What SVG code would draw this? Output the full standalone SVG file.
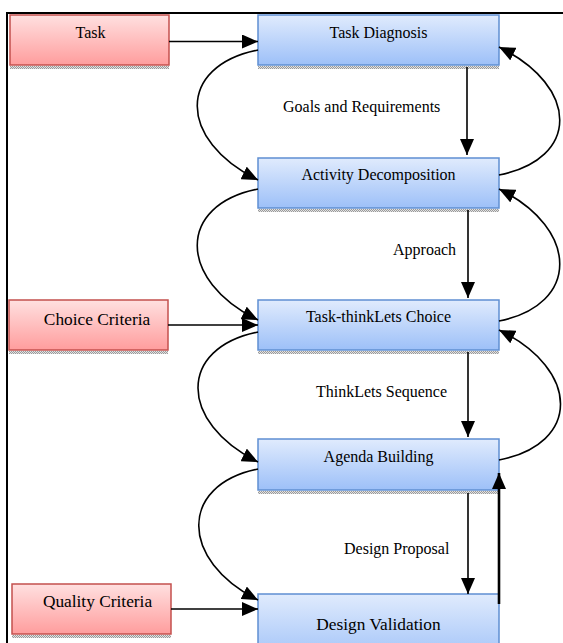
<svg xmlns="http://www.w3.org/2000/svg" width="563" height="643" viewBox="0 0 563 643">
<defs>
<linearGradient id="gBlue" x1="0" y1="0" x2="0" y2="1">
<stop offset="0" stop-color="#e0ebfd"/>
<stop offset="1" stop-color="#9dc0f8"/>
</linearGradient>
<linearGradient id="gRed" x1="0" y1="0" x2="0" y2="1">
<stop offset="0" stop-color="#ffe0e0"/>
<stop offset="1" stop-color="#ff9d9d"/>
</linearGradient>
<pattern id="hatch" width="2" height="2" patternUnits="userSpaceOnUse">
<rect width="2" height="2" fill="#e2e2e2"/>
<rect width="1" height="1" fill="#9a9a9a"/>
<rect x="1" y="1" width="1" height="1" fill="#9a9a9a"/>
</pattern>
<marker id="ah" markerUnits="userSpaceOnUse" markerWidth="16" markerHeight="14" refX="16" refY="7" orient="auto">
<path d="M0,0 L16,7 L0,14 z" fill="#000"/>
</marker>
</defs>
<style>
.blue{fill:url(#gBlue);stroke:#5f8fd2;stroke-width:1.5}
.red{fill:url(#gRed);stroke:#c4504e;stroke-width:1.5}
.sh{fill:url(#hatch)}
.t{font-family:"Liberation Serif","Times New Roman",serif;font-size:16px;fill:#000}
.tb{font-family:"Liberation Serif","Times New Roman",serif;font-size:17.33px;fill:#000}
.c{text-anchor:middle}
.con path{fill:none;stroke:#000;stroke-width:1.6;marker-end:url(#ah)}
</style>
<path d="M7,643 V13 H563" fill="none" stroke="#000" stroke-width="2"/>

<g id="task">
<rect class="sh" x="10" y="66" width="159" height="3"/>
<rect class="red" x="10" y="15" width="159" height="50"/>
<text class="t c" x="90.5" y="38">Task</text>
</g>
<g id="choice-criteria">
<rect class="sh" x="9" y="351" width="159" height="3"/>
<rect class="red" x="9" y="300" width="159" height="50"/>
<text class="tb c" x="97" y="325">Choice Criteria</text>
</g>
<g id="quality-criteria">
<rect class="sh" x="12" y="635" width="159" height="3"/>
<rect class="red" x="12" y="584" width="159" height="50"/>
<text class="tb c" x="97.5" y="607">Quality Criteria</text>
</g>

<g id="task-diagnosis">
<rect class="sh" x="258" y="66" width="241" height="3"/>
<rect class="blue" x="258" y="15" width="241" height="50"/>
<text class="t c" x="378.5" y="37.5">Task Diagnosis</text>
</g>
<g id="activity-decomposition">
<rect class="sh" x="258" y="209" width="241" height="3"/>
<rect class="blue" x="258" y="158" width="241" height="50"/>
<text class="t c" x="378.5" y="180">Activity Decomposition</text>
</g>
<g id="task-thinklets-choice">
<rect class="sh" x="258" y="351" width="241" height="3"/>
<rect class="blue" x="258" y="300" width="241" height="50"/>
<text class="t c" x="378.5" y="322">Task-thinkLets Choice</text>
</g>
<g id="agenda-building">
<rect class="sh" x="258" y="491" width="241" height="3"/>
<rect class="blue" x="258" y="439" width="241" height="51"/>
<text class="t c" x="378.5" y="462">Agenda Building</text>
</g>
<g id="design-validation">
<rect class="blue" x="258" y="594" width="241" height="70"/>
<text class="tb c" x="378.5" y="630">Design Validation</text>
</g>

<g id="connectors" class="con">
<path d="M169,41.5 H258"/>
<path d="M168,325 H258"/>
<path d="M171,609 H258"/>
<path d="M467,67 V155"/>
<path d="M468,210 V298"/>
<path d="M468,352 V437"/>
<path d="M468,493 V594"/>
<path d="M499,604 V473" style="stroke-width:2.6"/>
<path d="M258,50 C177,66 177,140 258,180"/>
<path d="M258,189 C177,205 177,280 258,320"/>
<path d="M258,332 C178,348 178,422 258,462"/>
<path d="M258,469 C179,485 179,560 258,600"/>
<path d="M499,175 C580,159 580,87 499,47"/>
<path d="M499,321 C580,305 580,229 499,189"/>
<path d="M499,460 C581,444 581,370 499,330"/>
<g id="labels">
<text class="t" x="283" y="112">Goals and Requirements</text>
<text class="t" x="393" y="255">Approach</text>
<text class="t" x="316" y="397">ThinkLets Sequence</text>
<text class="t" x="344" y="554">Design Proposal</text>
</g>
</g>
</svg>
